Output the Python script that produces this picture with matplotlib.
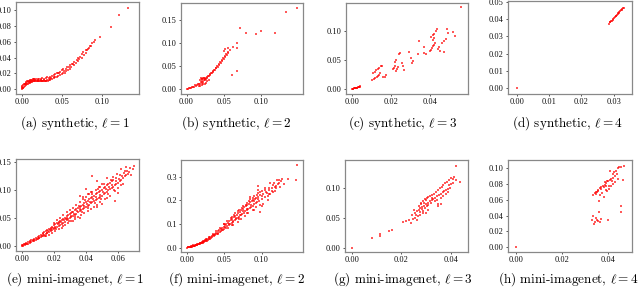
import numpy as np
import matplotlib.pyplot as plt

plt.rcParams["font.family"] = "Liberation Serif"
plt.rcParams["mathtext.fontset"] = "cm"

# points, (x, y) pairs per panel
syn1 = np.array([
    (0.000, 0.000), (0.000, 0.003), (0.001, 0.001), (0.001, 0.004), (0.002, 0.002), (0.002, 0.005),
    (0.003, 0.003), (0.003, 0.006), (0.004, 0.004), (0.004, 0.007), (0.005, 0.005), (0.005, 0.008),
    (0.006, 0.006), (0.006, 0.009), (0.007, 0.007), (0.007, 0.010), (0.008, 0.007), (0.008, 0.010),
    (0.009, 0.008), (0.009, 0.011), (0.010, 0.008), (0.010, 0.011), (0.011, 0.009), (0.011, 0.012),
    (0.012, 0.009), (0.012, 0.012), (0.013, 0.009), (0.013, 0.012), (0.014, 0.010), (0.014, 0.013),
    (0.015, 0.010), (0.015, 0.013), (0.016, 0.010), (0.016, 0.013), (0.017, 0.010), (0.018, 0.011),
    (0.018, 0.013), (0.019, 0.010), (0.020, 0.011), (0.020, 0.013), (0.021, 0.010), (0.022, 0.011),
    (0.022, 0.013), (0.023, 0.010), (0.024, 0.011), (0.024, 0.013), (0.025, 0.010), (0.026, 0.011),
    (0.026, 0.014), (0.027, 0.010), (0.028, 0.011), (0.028, 0.013), (0.029, 0.010), (0.030, 0.011),
    (0.030, 0.014), (0.031, 0.010), (0.032, 0.012), (0.032, 0.015), (0.033, 0.011), (0.034, 0.012),
    (0.035, 0.013), (0.035, 0.016), (0.036, 0.012), (0.037, 0.014), (0.038, 0.013), (0.038, 0.017),
    (0.040, 0.014), (0.040, 0.018), (0.042, 0.015), (0.042, 0.019), (0.044, 0.016), (0.044, 0.020),
    (0.046, 0.017), (0.046, 0.021), (0.048, 0.018), (0.048, 0.022), (0.050, 0.019), (0.050, 0.024),
    (0.052, 0.020), (0.052, 0.025), (0.054, 0.021), (0.055, 0.026), (0.056, 0.023), (0.057, 0.028),
    (0.058, 0.024), (0.060, 0.026), (0.060, 0.030), (0.062, 0.028), (0.063, 0.032), (0.065, 0.030),
    (0.066, 0.034), (0.068, 0.033), (0.069, 0.037), (0.070, 0.035), (0.072, 0.038), (0.073, 0.041),
    (0.075, 0.040), (0.076, 0.044), (0.078, 0.043), (0.080, 0.046), (0.080, 0.050), (0.082, 0.049),
    (0.084, 0.052), (0.085, 0.055), (0.087, 0.054), (0.088, 0.058), (0.090, 0.060), (0.092, 0.062),
    (0.098, 0.066), (0.112, 0.079), (0.122, 0.094), (0.133, 0.103),
    (0.0015, 0.0015), (0.0045, 0.0060), (0.0085, 0.0095), (0.0125, 0.0105), (0.0165, 0.0120),
    (0.0205, 0.0120), (0.0245, 0.0120), (0.0285, 0.0120), (0.0345, 0.0145), (0.0410, 0.0160),
    (0.0470, 0.0200), (0.0530, 0.0230), (0.0590, 0.0280), (0.0645, 0.0320), (0.0710, 0.0400),
    (0.0770, 0.0470), (0.0830, 0.0510),
])

syn2 = np.array([
    (0.000, 0.000), (0.002, 0.001), (0.004, 0.002), (0.006, 0.003), (0.008, 0.004), (0.010, 0.005),
    (0.012, 0.007), (0.014, 0.008), (0.016, 0.010), (0.018, 0.012), (0.020, 0.014), (0.022, 0.016),
    (0.024, 0.019), (0.026, 0.022), (0.028, 0.025), (0.030, 0.028), (0.032, 0.031), (0.034, 0.034),
    (0.036, 0.037), (0.038, 0.041), (0.040, 0.045), (0.042, 0.049), (0.044, 0.053), (0.046, 0.057),
    (0.048, 0.062), (0.050, 0.066), (0.052, 0.070), (0.054, 0.074), (0.056, 0.078),
    (0.003, 0.003), (0.007, 0.005), (0.011, 0.008), (0.015, 0.011), (0.019, 0.015), (0.021, 0.018),
    (0.023, 0.020), (0.025, 0.023), (0.027, 0.026), (0.029, 0.029), (0.031, 0.032), (0.033, 0.035),
    (0.035, 0.039), (0.037, 0.042), (0.039, 0.046), (0.041, 0.050), (0.043, 0.054), (0.045, 0.059),
    (0.047, 0.063), (0.049, 0.068), (0.051, 0.072), (0.053, 0.076), (0.055, 0.080),
    (0.018, 0.020), (0.020, 0.022), (0.022, 0.024), (0.019, 0.023), (0.021, 0.021), (0.023, 0.025),
    (0.024, 0.022), (0.016, 0.006), (0.018, 0.007), (0.020, 0.008), (0.022, 0.010), (0.024, 0.012),
    (0.026, 0.014), (0.028, 0.017), (0.030, 0.020),
    (0.050, 0.082), (0.052, 0.088), (0.056, 0.090), (0.058, 0.085), (0.062, 0.092), (0.067, 0.090),
    (0.068, 0.0995), (0.061, 0.031), (0.068, 0.040), (0.071, 0.133), (0.079, 0.123), (0.093, 0.119),
    (0.099, 0.126), (0.118, 0.123), (0.133, 0.167), (0.148, 0.177),
])

syn3 = np.array([
    (0.0000, 0.0000), (0.0005, 0.0005), (0.0010, 0.0010), (0.0015, 0.0015), (0.0020, 0.0020),
    (0.0025, 0.0025), (0.0030, 0.0030), (0.0035, 0.0035), (0.0040, 0.0040), (0.0043, 0.0046),
    (0.0008, 0.0004), (0.0018, 0.0012), (0.0028, 0.0022), (0.0038, 0.0032),
    (0.0105, 0.015), (0.0112, 0.017), (0.0120, 0.019), (0.0128, 0.020), (0.0135, 0.022),
    (0.0110, 0.027), (0.0118, 0.030), (0.0125, 0.033), (0.0132, 0.035), (0.0140, 0.037),
    (0.0148, 0.039), (0.0153, 0.040), (0.0138, 0.025), (0.0145, 0.028), (0.0170, 0.021),
    (0.0175, 0.024), (0.0160, 0.020),
    (0.0210, 0.034), (0.0215, 0.037), (0.0220, 0.040), (0.0225, 0.032), (0.0230, 0.035),
    (0.0235, 0.038), (0.0220, 0.047), (0.0228, 0.050), (0.0240, 0.061), (0.0245, 0.063),
    (0.0255, 0.045), (0.0260, 0.040), (0.0265, 0.033),
    (0.0290, 0.064), (0.0300, 0.054), (0.0305, 0.045), (0.0312, 0.048), (0.0335, 0.060),
    (0.0345, 0.083), (0.0366, 0.062), (0.0380, 0.060), (0.0370, 0.072),
    (0.0400, 0.065), (0.0405, 0.068), (0.0410, 0.071), (0.0415, 0.074), (0.0420, 0.077),
    (0.0425, 0.080), (0.0405, 0.090), (0.0412, 0.093), (0.0420, 0.096), (0.0428, 0.100),
    (0.0432, 0.104), (0.0412, 0.085), (0.0420, 0.088), (0.0440, 0.070), (0.0445, 0.073),
    (0.0450, 0.066), (0.0460, 0.080), (0.0470, 0.083), (0.0480, 0.086), (0.0470, 0.064),
    (0.0485, 0.104), (0.0490, 0.097), (0.0516, 0.098), (0.0528, 0.091), (0.0557, 0.142),
])

syn4 = np.array([
    (0.0000, 0.0000), (0.0285, 0.0374), (0.0288, 0.0380), (0.0291, 0.0386), (0.0294, 0.0391),
    (0.0297, 0.0397), (0.0300, 0.0404), (0.0303, 0.0409), (0.0306, 0.0415), (0.0309, 0.0421),
    (0.0312, 0.0427), (0.0315, 0.0433), (0.0318, 0.0438), (0.0321, 0.0444), (0.0324, 0.0450),
    (0.0327, 0.0456), (0.0330, 0.0461), (0.0332, 0.0465), (0.0290, 0.0383), (0.0299, 0.0401),
    (0.0308, 0.0418), (0.0317, 0.0436), (0.0326, 0.0453),
])

mini1 = np.array([
    (0.000, 0.000), (0.000, 0.002), (0.001, 0.001), (0.001, 0.003), (0.002, 0.002), (0.002, 0.004),
    (0.003, 0.004), (0.003, 0.006), (0.004, 0.005), (0.004, 0.007), (0.005, 0.006), (0.005, 0.009),
    (0.006, 0.008), (0.006, 0.011), (0.007, 0.009), (0.007, 0.012), (0.008, 0.010), (0.008, 0.013),
    (0.009, 0.012), (0.009, 0.015), (0.010, 0.013), (0.010, 0.017), (0.011, 0.015), (0.011, 0.019),
    (0.012, 0.017), (0.012, 0.021), (0.013, 0.018), (0.013, 0.023), (0.014, 0.020), (0.014, 0.025),
    (0.015, 0.022), (0.015, 0.027), (0.015, 0.019), (0.016, 0.024), (0.016, 0.029), (0.017, 0.025),
    (0.017, 0.031), (0.017, 0.021), (0.018, 0.027), (0.018, 0.033), (0.019, 0.029), (0.019, 0.035),
    (0.019, 0.024), (0.020, 0.031), (0.020, 0.037), (0.020, 0.042), (0.021, 0.033), (0.021, 0.039),
    (0.021, 0.027), (0.022, 0.035), (0.022, 0.041), (0.022, 0.046), (0.023, 0.036), (0.023, 0.043),
    (0.023, 0.030), (0.024, 0.038), (0.024, 0.045), (0.024, 0.050), (0.025, 0.040), (0.025, 0.047),
    (0.025, 0.033), (0.026, 0.042), (0.026, 0.049), (0.026, 0.055), (0.027, 0.044), (0.027, 0.051),
    (0.027, 0.037), (0.028, 0.046), (0.028, 0.053), (0.028, 0.060), (0.029, 0.048), (0.029, 0.055),
    (0.029, 0.041), (0.030, 0.050), (0.030, 0.057), (0.030, 0.064), (0.031, 0.052), (0.031, 0.059),
    (0.031, 0.045), (0.032, 0.054), (0.032, 0.061), (0.032, 0.068), (0.033, 0.056), (0.033, 0.064),
    (0.033, 0.048), (0.034, 0.058), (0.034, 0.066), (0.034, 0.073), (0.035, 0.060), (0.035, 0.068),
    (0.035, 0.052), (0.036, 0.062), (0.036, 0.070), (0.036, 0.078), (0.037, 0.064), (0.037, 0.072),
    (0.037, 0.055), (0.038, 0.066), (0.038, 0.074), (0.038, 0.083), (0.039, 0.068), (0.039, 0.077),
    (0.039, 0.059), (0.040, 0.070), (0.040, 0.079), (0.040, 0.088), (0.041, 0.072), (0.041, 0.081),
    (0.041, 0.063), (0.042, 0.074), (0.042, 0.083), (0.042, 0.092), (0.043, 0.076), (0.043, 0.085),
    (0.043, 0.066), (0.044, 0.078), (0.044, 0.087), (0.044, 0.096), (0.045, 0.080), (0.045, 0.090),
    (0.045, 0.070), (0.046, 0.082), (0.046, 0.092), (0.046, 0.100), (0.047, 0.084), (0.047, 0.094),
    (0.047, 0.074), (0.048, 0.086), (0.048, 0.096), (0.048, 0.105), (0.049, 0.088), (0.049, 0.098),
    (0.049, 0.078), (0.050, 0.090), (0.050, 0.100), (0.050, 0.110), (0.051, 0.092), (0.051, 0.103),
    (0.052, 0.095), (0.052, 0.106), (0.052, 0.084), (0.053, 0.097), (0.053, 0.108), (0.054, 0.099),
    (0.054, 0.111), (0.055, 0.102), (0.055, 0.113), (0.055, 0.090), (0.056, 0.104), (0.056, 0.116),
    (0.057, 0.106), (0.057, 0.118), (0.058, 0.109), (0.058, 0.098), (0.059, 0.111), (0.059, 0.121),
    (0.060, 0.113), (0.060, 0.103), (0.061, 0.116), (0.061, 0.126), (0.062, 0.118), (0.063, 0.121),
    (0.063, 0.110), (0.064, 0.124), (0.064, 0.133), (0.065, 0.126), (0.066, 0.129), (0.067, 0.131),
    (0.068, 0.127), (0.069, 0.137), (0.070, 0.143),
    (0.044, 0.124), (0.047, 0.115), (0.053, 0.121), (0.058, 0.080), (0.040, 0.102), (0.036, 0.090),
    (0.050, 0.075), (0.062, 0.137), (0.065, 0.140),
    (0.0015, 0.0035), (0.0035, 0.0045), (0.0055, 0.0075), (0.0075, 0.0105), (0.0095, 0.0135),
    (0.0105, 0.0155), (0.0125, 0.0185), (0.0135, 0.0215), (0.0145, 0.0175), (0.0155, 0.0245),
    (0.0165, 0.0265), (0.0175, 0.0285), (0.0185, 0.0300), (0.0195, 0.0320), (0.0205, 0.0345),
    (0.0215, 0.0300), (0.0225, 0.0390), (0.0235, 0.0410), (0.0245, 0.0430), (0.0255, 0.0365),
    (0.0265, 0.0460), (0.0275, 0.0480), (0.0285, 0.0510), (0.0295, 0.0445), (0.0305, 0.0540),
    (0.0315, 0.0610), (0.0325, 0.0580), (0.0335, 0.0520), (0.0345, 0.0630), (0.0355, 0.0720),
    (0.0365, 0.0670), (0.0375, 0.0600), (0.0385, 0.0710), (0.0395, 0.0820), (0.0405, 0.0750),
    (0.0415, 0.0680), (0.0425, 0.0790), (0.0435, 0.0920), (0.0445, 0.0830), (0.0455, 0.0760),
    (0.0465, 0.0880), (0.0475, 0.1010), (0.0485, 0.0910), (0.0495, 0.0840), (0.0505, 0.0960),
    (0.0515, 0.1100), (0.0525, 0.1010), (0.0535, 0.0920), (0.0545, 0.1050), (0.0555, 0.1180),
    (0.0565, 0.1090), (0.0575, 0.1000), (0.0585, 0.1150), (0.0595, 0.1280), (0.0605, 0.1190),
    (0.0615, 0.1080), (0.0625, 0.1250), (0.0635, 0.1300), (0.0655, 0.1330), (0.0675, 0.1390),
    (0.0530, 0.0860), (0.0470, 0.0690), (0.0430, 0.0960), (0.0380, 0.0880), (0.0570, 0.1230),
    (0.0600, 0.0950), (0.0490, 0.1060), (0.0410, 0.0920), (0.0360, 0.0500), (0.0320, 0.0450),
])

mini2 = np.array([
    (0.000, 0.000), (0.001, 0.001), (0.002, 0.001), (0.003, 0.002), (0.004, 0.003), (0.005, 0.003),
    (0.006, 0.004), (0.007, 0.005), (0.008, 0.006), (0.009, 0.007), (0.010, 0.008), (0.011, 0.009),
    (0.012, 0.010), (0.013, 0.011), (0.014, 0.012), (0.015, 0.014), (0.016, 0.015), (0.017, 0.016),
    (0.018, 0.018), (0.019, 0.019), (0.020, 0.021), (0.021, 0.023), (0.022, 0.025), (0.023, 0.027),
    (0.024, 0.029), (0.025, 0.031),
    (0.005, 0.006), (0.008, 0.010), (0.011, 0.013), (0.014, 0.016), (0.017, 0.020), (0.020, 0.025),
    (0.022, 0.019), (0.024, 0.034), (0.026, 0.028), (0.027, 0.038), (0.028, 0.032), (0.029, 0.042),
    (0.030, 0.036), (0.031, 0.046), (0.032, 0.040), (0.033, 0.050), (0.034, 0.044), (0.035, 0.055),
    (0.036, 0.048), (0.037, 0.060), (0.038, 0.052), (0.039, 0.064), (0.040, 0.057), (0.041, 0.069),
    (0.042, 0.061), (0.043, 0.074), (0.044, 0.065), (0.045, 0.079), (0.046, 0.070), (0.047, 0.084),
    (0.048, 0.074), (0.049, 0.089), (0.050, 0.080), (0.051, 0.095), (0.052, 0.085), (0.053, 0.100),
    (0.054, 0.090), (0.055, 0.105), (0.056, 0.094), (0.057, 0.111), (0.058, 0.100), (0.059, 0.117),
    (0.060, 0.105), (0.061, 0.122), (0.062, 0.110), (0.063, 0.128), (0.064, 0.115), (0.065, 0.134),
    (0.066, 0.120), (0.067, 0.140), (0.068, 0.126), (0.069, 0.146), (0.070, 0.131), (0.071, 0.152),
    (0.072, 0.137), (0.073, 0.158), (0.074, 0.142), (0.075, 0.164), (0.076, 0.148), (0.077, 0.170),
    (0.078, 0.153), (0.079, 0.176), (0.080, 0.158), (0.081, 0.181), (0.082, 0.163), (0.083, 0.186),
    (0.084, 0.168), (0.085, 0.191), (0.086, 0.173), (0.087, 0.196), (0.088, 0.178), (0.089, 0.201),
    (0.090, 0.183), (0.091, 0.206), (0.092, 0.188), (0.093, 0.211), (0.094, 0.193), (0.095, 0.216),
    (0.096, 0.198), (0.098, 0.221), (0.100, 0.205), (0.102, 0.228), (0.104, 0.212), (0.106, 0.235),
    (0.108, 0.220), (0.110, 0.242), (0.112, 0.228), (0.114, 0.250), (0.116, 0.236), (0.118, 0.257),
    (0.120, 0.262), (0.122, 0.268), (0.124, 0.275), (0.126, 0.280),
    (0.050, 0.100), (0.055, 0.085), (0.060, 0.130), (0.062, 0.095), (0.065, 0.145), (0.068, 0.110),
    (0.070, 0.160), (0.072, 0.120), (0.075, 0.175), (0.078, 0.135), (0.080, 0.190), (0.082, 0.145),
    (0.085, 0.205), (0.088, 0.160), (0.090, 0.220), (0.092, 0.170), (0.095, 0.230), (0.098, 0.180),
    (0.100, 0.240), (0.102, 0.185), (0.105, 0.250), (0.108, 0.200), (0.110, 0.225), (0.115, 0.265),
    (0.118, 0.240), (0.121, 0.285), (0.125, 0.255), (0.128, 0.290), (0.136, 0.289), (0.146, 0.285),
    (0.147, 0.349), (0.098, 0.150), (0.095, 0.260), (0.112, 0.275), (0.130, 0.270),
    (0.0035, 0.0040), (0.0065, 0.0060), (0.0095, 0.0090), (0.0125, 0.0130), (0.0155, 0.0170),
    (0.0185, 0.0210), (0.0215, 0.0270), (0.0235, 0.0230), (0.0255, 0.0350), (0.0275, 0.0290),
    (0.0295, 0.0470), (0.0315, 0.0380), (0.0345, 0.0600), (0.0365, 0.0520), (0.0395, 0.0710),
    (0.0415, 0.0580), (0.0445, 0.0840), (0.0465, 0.0750), (0.0495, 0.0990), (0.0515, 0.0860),
    (0.0535, 0.1120), (0.0565, 0.1000), (0.0585, 0.1250), (0.0615, 0.1120), (0.0635, 0.1380),
    (0.0655, 0.1250), (0.0685, 0.1530), (0.0705, 0.1400), (0.0735, 0.1660), (0.0755, 0.1530),
    (0.0785, 0.1800), (0.0805, 0.1650), (0.0835, 0.1960), (0.0855, 0.1800), (0.0885, 0.2080),
    (0.0905, 0.1950), (0.0935, 0.2230), (0.0955, 0.2050), (0.0985, 0.2330), (0.1010, 0.2180),
    (0.1045, 0.2420), (0.1075, 0.2290), (0.1105, 0.2520), (0.1135, 0.2400), (0.1165, 0.2710),
    (0.1195, 0.2500), (0.1230, 0.2850), (0.0600, 0.0950), (0.0700, 0.1200), (0.0800, 0.1450),
    (0.0900, 0.1600), (0.1000, 0.1750), (0.0950, 0.2450), (0.0850, 0.2150),
])

mini3 = np.array([
    (0.0000, 0.000), (0.0081, 0.0156), (0.0115, 0.023), (0.0115, 0.019), (0.0149, 0.027),
    (0.0162, 0.029), (0.0207, 0.043), (0.0220, 0.045), (0.0233, 0.046), (0.0247, 0.047),
    (0.0240, 0.041), (0.0255, 0.049), (0.0262, 0.046),
    (0.0255, 0.058), (0.0262, 0.061), (0.0270, 0.063), (0.0278, 0.066), (0.0285, 0.068),
    (0.0293, 0.070), (0.0300, 0.073), (0.0308, 0.075), (0.0315, 0.077), (0.0323, 0.079),
    (0.0330, 0.081), (0.0338, 0.083), (0.0345, 0.086), (0.0353, 0.088), (0.0360, 0.090),
    (0.0368, 0.092), (0.0375, 0.094), (0.0383, 0.096), (0.0390, 0.098), (0.0398, 0.099),
    (0.0280, 0.075), (0.0288, 0.078), (0.0295, 0.081), (0.0303, 0.083), (0.0310, 0.085),
    (0.0318, 0.086), (0.0325, 0.088), (0.0333, 0.090), (0.0340, 0.093), (0.0348, 0.096),
    (0.0355, 0.099), (0.0363, 0.101), (0.0370, 0.104), (0.0378, 0.107), (0.0385, 0.110),
    (0.0393, 0.113), (0.0400, 0.116), (0.0408, 0.114), (0.0415, 0.117), (0.0423, 0.112),
    (0.0436, 0.110), (0.0420, 0.136),
    (0.0270, 0.070), (0.0275, 0.060), (0.0283, 0.064), (0.0290, 0.061), (0.0298, 0.066),
    (0.0305, 0.069), (0.0280, 0.072), (0.0292, 0.075), (0.0300, 0.080), (0.0310, 0.071),
    (0.0320, 0.074), (0.0325, 0.083), (0.0335, 0.077), (0.0345, 0.080), (0.0350, 0.073),
    (0.0362, 0.083), (0.0370, 0.086), (0.0380, 0.089), (0.0390, 0.092), (0.0395, 0.104),
    (0.0402, 0.106), (0.0410, 0.108), (0.0260, 0.055), (0.0268, 0.052), (0.0278, 0.055),
    (0.0288, 0.057), (0.0300, 0.058), (0.0310, 0.062), (0.0250, 0.062), (0.0245, 0.055),
    (0.0350, 0.069), (0.0360, 0.072),
])

mini4 = np.array([
    (0.0000, 0.000),
    (0.0333, 0.066), (0.0341, 0.068), (0.0348, 0.070), (0.0355, 0.071), (0.0362, 0.075),
    (0.0370, 0.076), (0.0377, 0.077), (0.0384, 0.079), (0.0391, 0.078), (0.0399, 0.084),
    (0.0406, 0.085), (0.0413, 0.086), (0.0420, 0.088), (0.0428, 0.090), (0.0409, 0.096),
    (0.0419, 0.093), (0.0426, 0.095), (0.0433, 0.097), (0.0440, 0.100), (0.0447, 0.102),
    (0.0467, 0.103), (0.0455, 0.101), (0.0436, 0.093), (0.0464, 0.085), (0.0440, 0.086),
    (0.0384, 0.082), (0.0394, 0.084), (0.0413, 0.078), (0.0403, 0.077), (0.0388, 0.072),
    (0.0373, 0.069), (0.0362, 0.066), (0.0350, 0.070), (0.0370, 0.074), (0.0380, 0.076),
    (0.0420, 0.080), (0.0431, 0.082), (0.0405, 0.074), (0.0360, 0.059), (0.0382, 0.064),
    (0.0395, 0.071), (0.0345, 0.067), (0.0357, 0.073), (0.0392, 0.081), (0.0418, 0.084),
    (0.0333, 0.040), (0.0331, 0.034), (0.0341, 0.032), (0.0351, 0.034), (0.0355, 0.033),
    (0.0362, 0.032), (0.0370, 0.035), (0.0359, 0.044), (0.0455, 0.052), (0.0455, 0.044),
    (0.0398, 0.034), (0.0338, 0.029), (0.0345, 0.037),
])

captions = [
    r"(a) synthetic, $\ell = 1$", r"(b) synthetic, $\ell = 2$",
    r"(c) synthetic, $\ell = 3$", r"(d) synthetic, $\ell = 4$",
    r"(e) mini-imagenet, $\ell = 1$", r"(f) mini-imagenet, $\ell = 2$",
    r"(g) mini-imagenet, $\ell = 3$", r"(h) mini-imagenet, $\ell = 4$",
]

xticks = [
    [0, 0.05, 0.10], [0, 0.05, 0.10], [0, 0.02, 0.04], [0, 0.01, 0.02, 0.03],
    [0, 0.02, 0.04, 0.06], [0, 0.05, 0.10], [0, 0.02, 0.04], [0, 0.02, 0.04],
]
yticks = [
    [0, 0.02, 0.04, 0.06, 0.08, 0.10], [0, 0.05, 0.10, 0.15], [0, 0.05, 0.10],
    [0, 0.01, 0.02, 0.03, 0.04, 0.05], [0, 0.05, 0.10, 0.15], [0, 0.1, 0.2, 0.3],
    [0, 0.05, 0.10], [0, 0.02, 0.04, 0.06, 0.08, 0.10],
]
xlims = [
    (-0.007, 0.1467), (-0.0074, 0.1556), (-0.0029, 0.0592), (-0.0028, 0.0357),
    (-0.0035, 0.073), (-0.008, 0.1556), (-0.0027, 0.047), (-0.0036, 0.0503),
]
ylims = [
    (-0.006, 0.110), (-0.0108, 0.1875), (-0.0087, 0.149), (-0.0033, 0.0504),
    (-0.0082, 0.1547), (-0.018, 0.37), (-0.0072, 0.146), (-0.0063, 0.1105),
]

data = [syn1, syn2, syn3, syn4, mini1, mini2, mini3, mini4]

W, H = 640, 288
# axes boxes in pixels: left, right, top, bottom
boxes = [
    (16, 139, 2, 94), (181, 303, 3, 94), (346, 468, 3, 94), (508, 632, 1, 94),
    (16, 139, 159, 251), (181, 303, 160, 252), (345, 468, 160, 252), (508, 632, 160, 252),
]
cap_x = [75, 236, 403, 568] * 2
cap_y = [123] * 4 + [279] * 4

fig = plt.figure(figsize=(W / 100, H / 100), dpi=100)

for i in range(8):
    l, r, t, b = boxes[i]
    ax = fig.add_axes([l / W, 1 - b / H, (r - l) / W, (b - t) / H])
    pts = data[i]
    ax.scatter(pts[:, 0], pts[:, 1], s=3.5, marker="s", c="red", alpha=0.65, linewidths=0)
    ax.set_xlim(*xlims[i])
    ax.set_ylim(*ylims[i])
    ax.set_xticks(xticks[i])
    ax.set_yticks(yticks[i])
    ax.tick_params(labelsize=6, length=1.5, width=0.5, pad=1.5, colors="#111111")
    for sp in ax.spines.values():
        sp.set_color("#888888")
        sp.set_linewidth(0.9)
    fig.text(cap_x[i] / W, 1 - cap_y[i] / H, captions[i], ha="center", va="center",
             fontsize=9.5, family="cmr10")

fig.savefig("out.png", dpi=100)
